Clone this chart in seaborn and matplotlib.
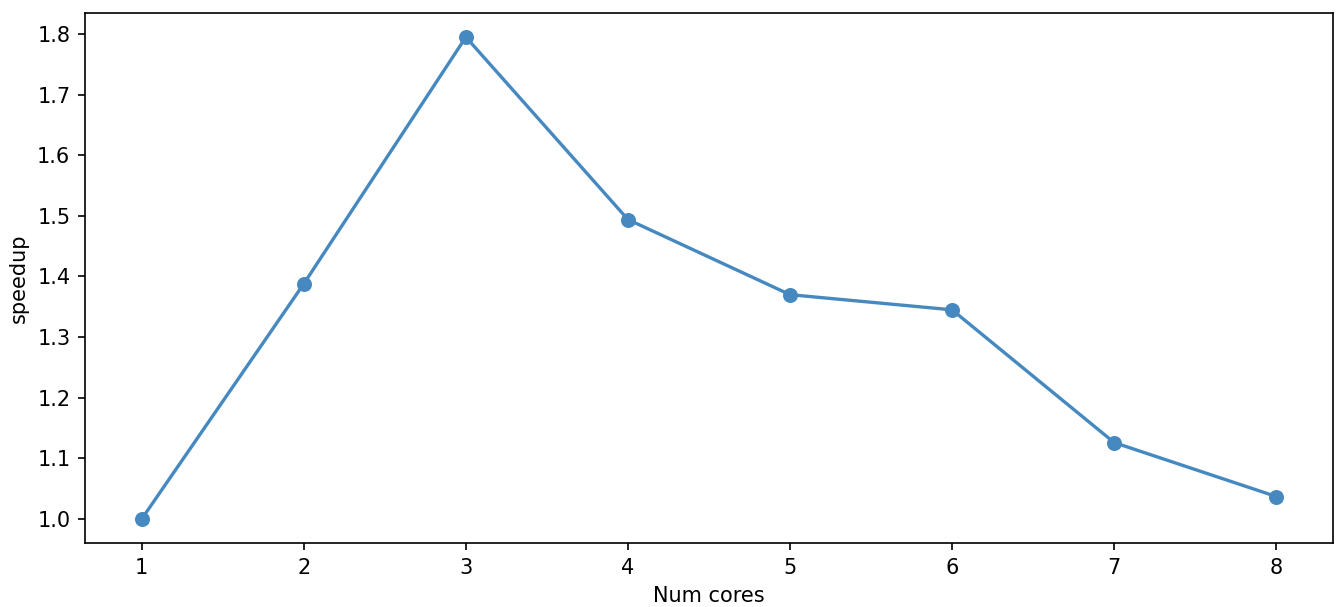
import matplotlib
matplotlib.use("Agg")
import matplotlib.pyplot as plt
import seaborn as sns
import pandas as pd

cores = [1, 2, 3, 4, 5, 6, 7, 8]
speedup = [1.000, 1.388, 1.795, 1.494, 1.370, 1.345, 1.126, 1.037]

df = pd.DataFrame({"Num cores": cores, "speedup": speedup})

dpi = 150
fig, ax = plt.subplots(figsize=(1341 / dpi, 607 / dpi), dpi=dpi)
fig.subplots_adjust(left=0.0634, right=0.994, top=0.9786, bottom=0.1054)

sns.lineplot(data=df, x="Num cores", y="speedup", color="#4589c0", ax=ax,
             marker="o", markersize=7.2, markeredgewidth=0, linewidth=1.6)

ax.set_xlabel("Num cores")
ax.set_ylabel("speedup")

fig.savefig("out.png", dpi=dpi)
